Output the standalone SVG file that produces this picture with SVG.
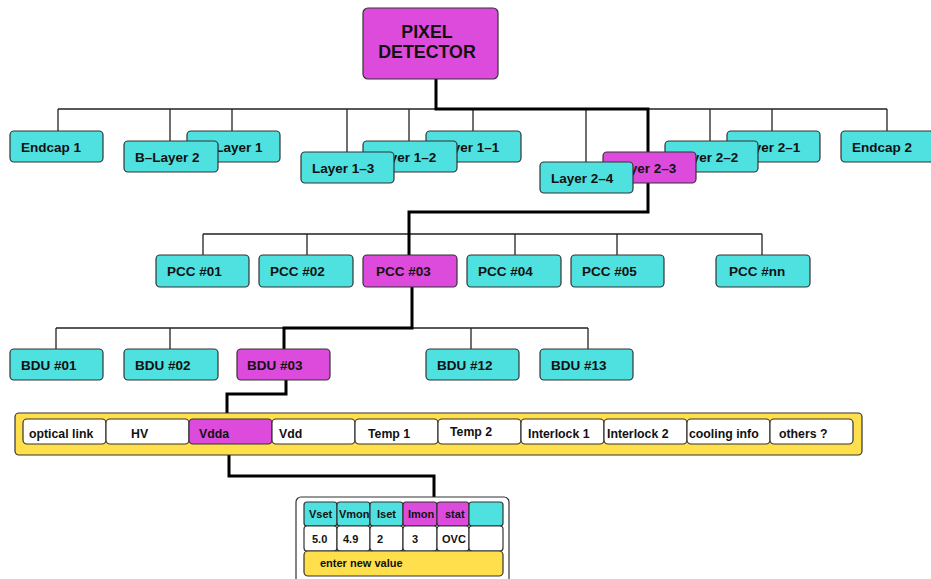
<svg xmlns="http://www.w3.org/2000/svg" width="931" height="579" viewBox="0 0 931 579">
<style>
text{font-family:"Liberation Sans",Arial,sans-serif;font-weight:bold;fill:#111}
.b{stroke:#333;stroke-width:1.2}
.c{fill:#4fe0e0}
.m{fill:#dd4bdd}
.y{fill:#ffe04c}
.w{fill:#fff}
.t{font-size:13.5px}
.s{font-size:12.3px}
.p{font-size:11px}
.thin{fill:none;stroke:#222;stroke-width:1.3}
.thick{fill:none;stroke:#000;stroke-width:3}
</style>
<rect width="931" height="579" fill="#fff"/>
<g id="connectors">
<path class="thin" d="M58,109H887M58,109V131M170,109V141M232,109V131M347,109V152M409,109V141M473,109V131M586,109V162M710,109V141M772,109V131M887,109V131"/>
<path class="thin" d="M203,234H762M203,234V255M307,234V255M515,234V255M617,234V255M762,234V255"/>
<path class="thin" d="M56,328H588M56,328V349M170,328V349M471,328V349M588,328V349"/>
<path class="thick" d="M436,79V109H648V212H409V255"/>
<path class="thick" d="M412,287V328H284V349"/>
<path class="thick" d="M286,380V394H227V413"/>
<path class="thick" d="M229,455V476H434V497"/>
</g>
<g id="pixel-detector"><rect class="b m" x="363" y="8" width="135" height="71" rx="5"/><text x="427" y="38" font-size="17.8" text-anchor="middle">PIXEL</text><text x="427" y="58" font-size="17.8" text-anchor="middle">DETECTOR</text></g>
<g id="endcap1"><rect class="b c" x="10" y="131" width="93" height="31" rx="4"/><text class="t" x="21" y="152">Endcap 1</text></g>
<g id="blayer1"><rect class="b c" x="187" y="131" width="93" height="31" rx="4"/><text class="t" x="198" y="152">B–Layer 1</text></g>
<g id="blayer2"><rect class="b c" x="124" y="141" width="94" height="31" rx="4"/><text class="t" x="135" y="162">B–Layer 2</text></g>
<g id="layer1-1"><rect class="b c" x="426" y="131" width="95" height="31" rx="4"/><text class="t" x="437" y="152">Layer 1–1</text></g>
<g id="layer1-2"><rect class="b c" x="363" y="141" width="94" height="31" rx="4"/><text class="t" x="374" y="162">Layer 1–2</text></g>
<g id="layer1-3"><rect class="b c" x="301" y="152" width="93" height="31" rx="4"/><text class="t" x="312" y="173">Layer 1–3</text></g>
<g id="layer2-1"><rect class="b c" x="727" y="131" width="93" height="31" rx="4"/><text class="t" x="738" y="152">Layer 2–1</text></g>
<g id="layer2-2"><rect class="b c" x="665" y="141" width="93" height="31" rx="4"/><text class="t" x="676" y="162">Layer 2–2</text></g>
<g id="layer2-3"><rect class="b m" x="603" y="152" width="93" height="31" rx="4"/><text class="t" x="614" y="173">Layer 2–3</text></g>
<g id="layer2-4"><rect class="b c" x="540" y="162" width="93" height="31" rx="4"/><text class="t" x="551" y="183">Layer 2–4</text></g>
<g id="endcap2"><rect class="b c" x="841" y="131" width="93" height="31" rx="4"/><text class="t" x="852" y="152">Endcap 2</text></g>
<g id="pcc01"><rect class="b c" x="156" y="255" width="93" height="32" rx="4"/><text class="t" x="167" y="276">PCC #01</text></g>
<g id="pcc02"><rect class="b c" x="259" y="255" width="94" height="32" rx="4"/><text class="t" x="270" y="276">PCC #02</text></g>
<g id="pcc03"><rect class="b m" x="363" y="255" width="94" height="32" rx="4"/><text class="t" x="376" y="276">PCC #03</text></g>
<g id="pcc04"><rect class="b c" x="467" y="255" width="94" height="32" rx="4"/><text class="t" x="478" y="276">PCC #04</text></g>
<g id="pcc05"><rect class="b c" x="571" y="255" width="93" height="32" rx="4"/><text class="t" x="582" y="276">PCC #05</text></g>
<g id="pccnn"><rect class="b c" x="716" y="255" width="94" height="32" rx="4"/><text class="t" x="729" y="276">PCC #nn</text></g>
<g id="bdu01"><rect class="b c" x="10" y="349" width="93" height="31" rx="4"/><text class="t" x="21" y="370">BDU #01</text></g>
<g id="bdu02"><rect class="b c" x="124" y="349" width="94" height="31" rx="4"/><text class="t" x="135" y="370">BDU #02</text></g>
<g id="bdu03"><rect class="b m" x="237" y="349" width="93" height="31" rx="4"/><text class="t" x="247" y="370">BDU #03</text></g>
<g id="bdu12"><rect class="b c" x="426" y="349" width="93" height="31" rx="4"/><text class="t" x="437" y="370">BDU #12</text></g>
<g id="bdu13"><rect class="b c" x="540" y="349" width="93" height="31" rx="4"/><text class="t" x="551" y="370">BDU #13</text></g>
<g id="channel-bar">
<rect class="b y" x="15" y="413" width="847" height="42" rx="4"/>
<rect class="b w" x="23" y="419" width="83" height="25" rx="4"/><text class="s" x="29" y="438">optical link</text>
<rect class="b w" x="106" y="419" width="83" height="25" rx="4"/><text class="s" x="131" y="438">HV</text>
<rect class="b m" x="189" y="419" width="83" height="25" rx="4"/><text class="s" x="199" y="438">Vdda</text>
<rect class="b w" x="272" y="419" width="83" height="25" rx="4"/><text class="s" x="279" y="438">Vdd</text>
<rect class="b w" x="355" y="419" width="83" height="25" rx="4"/><text class="s" x="368" y="438">Temp 1</text>
<rect class="b w" x="438" y="419" width="83" height="25" rx="4"/><text class="s" x="450" y="436">Temp 2</text>
<rect class="b w" x="521" y="419" width="83" height="25" rx="4"/><text class="s" x="528" y="438">Interlock 1</text>
<rect class="b w" x="604" y="419" width="83" height="25" rx="4"/><text class="s" x="607" y="438">Interlock 2</text>
<rect class="b w" x="687" y="419" width="83" height="25" rx="4"/><text class="s" x="689" y="438">cooling info</text>
<rect class="b w" x="770" y="419" width="83" height="25" rx="4"/><text class="s" x="779" y="438">others ?</text>
</g>
<g id="vdda-panel">
<rect class="b w" x="296" y="497" width="213" height="100" rx="5"/>
<rect class="b c" x="304" y="502" width="33" height="24" rx="3"/><text class="p" x="309" y="518">Vset</text>
<rect class="b c" x="337" y="502" width="33" height="24" rx="3"/><text class="p" x="339" y="518">Vmon</text>
<rect class="b c" x="370" y="502" width="33" height="24" rx="3"/><text class="p" x="377" y="518">Iset</text>
<rect class="b m" x="403" y="502" width="34" height="24" rx="3"/><text class="p" x="408" y="518">Imon</text>
<rect class="b m" x="437" y="502" width="32" height="24" rx="3"/><text class="p" x="445" y="518">stat</text>
<rect class="b c" x="469" y="502" width="34" height="24" rx="3"/>
<rect class="b w" x="304" y="526" width="33" height="25" rx="3"/><text class="p" x="312" y="543">5.0</text>
<rect class="b w" x="337" y="526" width="33" height="25" rx="3"/><text class="p" x="343" y="543">4.9</text>
<rect class="b w" x="370" y="526" width="33" height="25" rx="3"/><text class="p" x="377" y="543">2</text>
<rect class="b w" x="403" y="526" width="34" height="25" rx="3"/><text class="p" x="412" y="543">3</text>
<rect class="b w" x="437" y="526" width="32" height="25" rx="3"/><text class="p" x="442" y="543">OVC</text>
<rect class="b w" x="469" y="526" width="34" height="25" rx="3"/>
<rect class="b y" x="304" y="551" width="199" height="25" rx="4"/><text class="p" x="320" y="567">enter new value</text>
</g>
</svg>
